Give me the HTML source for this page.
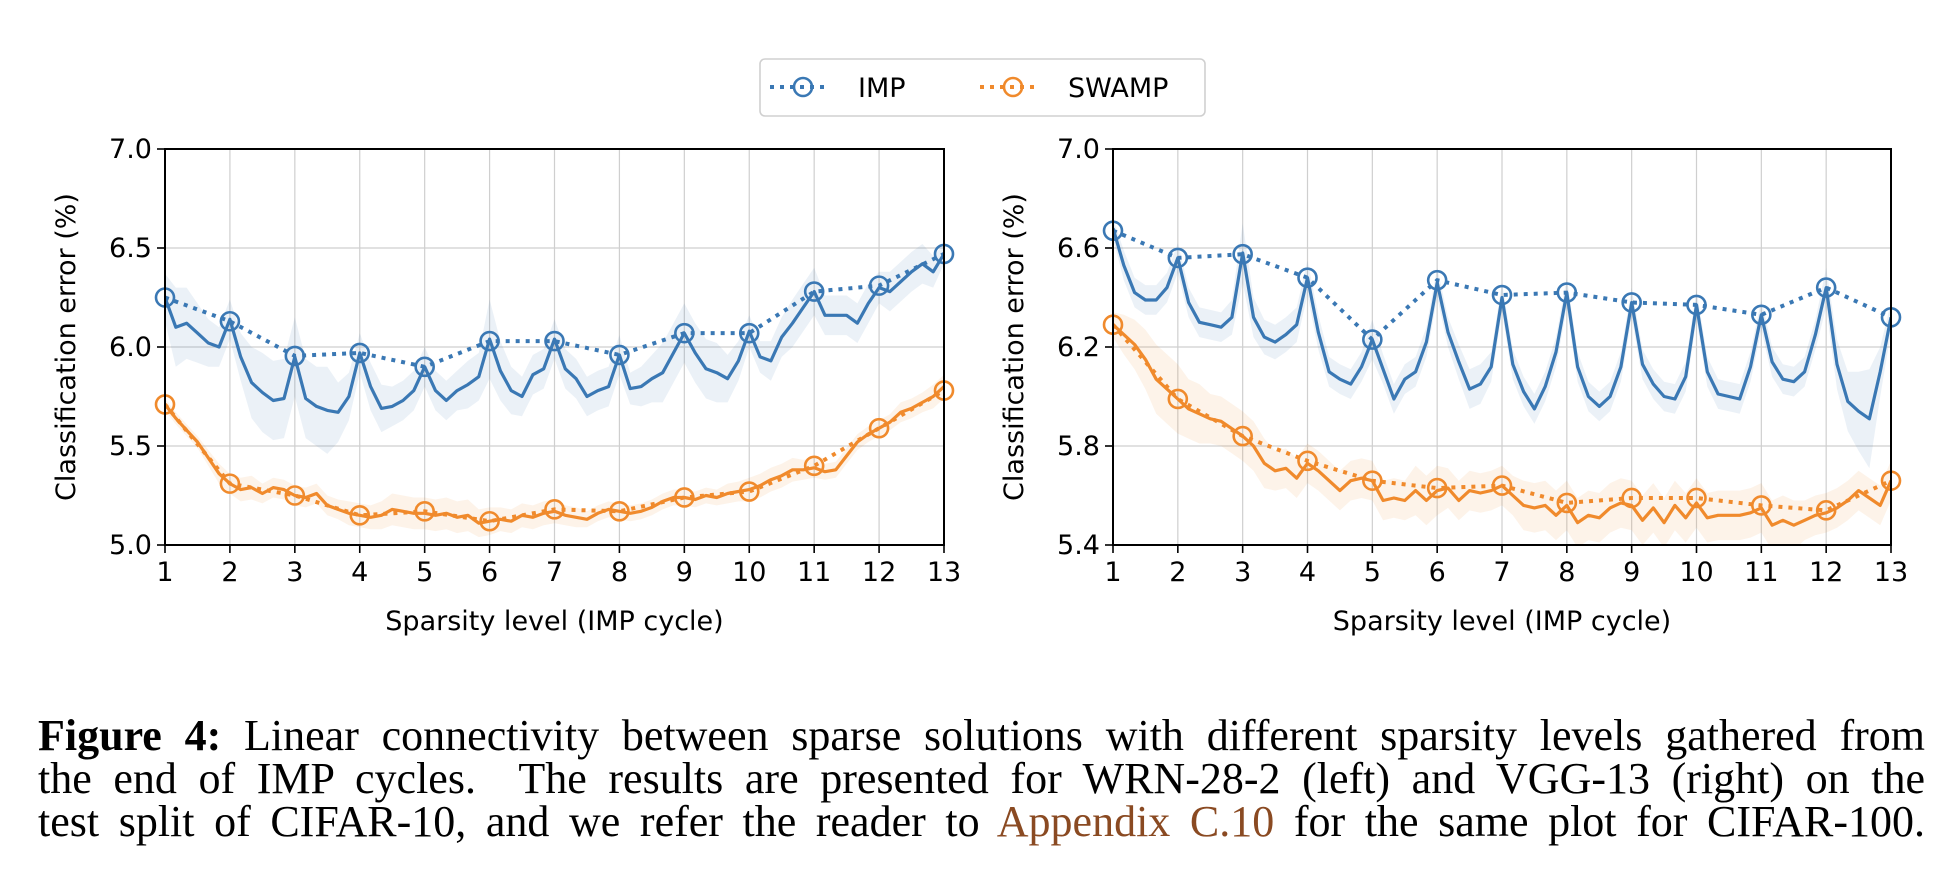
<!DOCTYPE html>
<html><head><meta charset="utf-8">
<style>
html,body{margin:0;padding:0;background:#fff;}
body{width:1954px;height:890px;position:relative;overflow:hidden;}
svg{position:absolute;left:0;top:0;}
.cap{position:absolute;left:38px;width:1887px;font-family:"Liberation Serif",serif;font-size:44px;color:#000;text-align:justify;text-align-last:justify;white-space:nowrap;line-height:44px;}
</style></head>
<body>
<svg id="fig" width="1954" height="700"></svg>
<div class="cap" style="top:714px"><b>Figure 4:</b> Linear connectivity between sparse solutions with different sparsity levels gathered from</div>
<div class="cap" style="top:757px">the end of IMP cycles.&nbsp; The results are presented for WRN-28-2 (left) and VGG-13 (right) on the</div>
<div class="cap" style="top:800px">test split of CIFAR-10, and we refer the reader to <span style="color:#8a4a22">Appendix C.10</span> for the same plot for CIFAR-100.</div>
<script>
const cycles=[1,2,3,4,5,6,7,8,9,10,11,12,13];
const leftImpEnd=[6.25,6.13,5.955,5.97,5.90,6.03,6.03,5.96,6.07,6.07,6.28,6.31,6.47];
const leftSwampEnd=[5.71,5.31,5.25,5.15,5.17,5.12,5.18,5.17,5.24,5.27,5.40,5.59,5.78];
const leftImpPath=[6.25,6.10,6.12,6.07,6.02,6.00,6.14,5.95,5.82,5.77,5.73,5.74,5.95,5.74,5.70,5.68,5.67,5.75,5.97,5.80,5.69,5.70,5.73,5.78,5.90,5.78,5.73,5.78,5.81,5.85,6.04,5.88,5.78,5.75,5.86,5.89,6.04,5.89,5.84,5.75,5.78,5.80,5.96,5.79,5.80,5.84,5.87,5.97,6.07,5.97,5.89,5.87,5.84,5.93,6.08,5.95,5.93,6.05,6.12,6.20,6.28,6.16,6.16,6.16,6.12,6.22,6.30,6.28,6.33,6.38,6.42,6.38,6.47];
const leftImpStd=[0.12,0.2,0.18,0.15,0.12,0.1,0.1,0.12,0.18,0.2,0.2,0.2,0.2,0.2,0.2,0.22,0.15,0.12,0.1,0.12,0.12,0.1,0.1,0.1,0.1,0.1,0.1,0.1,0.12,0.12,0.2,0.15,0.12,0.1,0.1,0.1,0.1,0.1,0.1,0.1,0.1,0.1,0.1,0.08,0.1,0.12,0.15,0.15,0.15,0.15,0.15,0.15,0.12,0.1,0.08,0.08,0.1,0.1,0.12,0.12,0.12,0.1,0.1,0.1,0.1,0.1,0.08,0.1,0.1,0.1,0.1,0.08,0.05];
const leftSwampPath=[5.71,5.64,5.58,5.52,5.44,5.36,5.31,5.28,5.29,5.26,5.29,5.28,5.25,5.24,5.26,5.20,5.18,5.16,5.15,5.14,5.15,5.18,5.17,5.16,5.16,5.15,5.16,5.14,5.15,5.11,5.12,5.13,5.12,5.15,5.14,5.16,5.17,5.15,5.14,5.13,5.16,5.18,5.17,5.16,5.17,5.19,5.22,5.24,5.24,5.23,5.25,5.24,5.26,5.27,5.28,5.30,5.33,5.35,5.38,5.38,5.39,5.37,5.38,5.45,5.52,5.56,5.59,5.62,5.67,5.69,5.72,5.75,5.80];
const leftSwampStd=[0.03,0.03,0.03,0.03,0.04,0.05,0.05,0.06,0.06,0.05,0.05,0.05,0.05,0.05,0.05,0.05,0.05,0.06,0.06,0.06,0.07,0.08,0.08,0.08,0.08,0.08,0.08,0.08,0.08,0.07,0.07,0.06,0.06,0.06,0.06,0.06,0.06,0.05,0.05,0.04,0.04,0.04,0.04,0.04,0.04,0.04,0.04,0.04,0.04,0.04,0.04,0.04,0.05,0.05,0.06,0.06,0.06,0.06,0.06,0.05,0.05,0.04,0.04,0.04,0.04,0.04,0.04,0.04,0.05,0.05,0.05,0.06,0.06];
const rightImpEnd=[6.67,6.56,6.575,6.48,6.23,6.47,6.41,6.42,6.38,6.37,6.33,6.44,6.32];
const rightSwampEnd=[6.29,5.99,5.84,5.74,5.66,5.63,5.64,5.57,5.59,5.59,5.56,5.54,5.66];
const rightImpPath=[6.68,6.53,6.42,6.39,6.39,6.44,6.56,6.38,6.30,6.29,6.28,6.32,6.58,6.32,6.24,6.22,6.25,6.29,6.48,6.26,6.10,6.07,6.05,6.12,6.23,6.11,5.99,6.07,6.10,6.22,6.46,6.26,6.14,6.03,6.05,6.12,6.40,6.13,6.02,5.95,6.04,6.18,6.42,6.12,6.00,5.96,6.00,6.12,6.38,6.13,6.05,6.00,5.99,6.08,6.37,6.10,6.01,6.00,5.99,6.12,6.33,6.14,6.07,6.06,6.10,6.25,6.44,6.13,5.98,5.94,5.91,6.10,6.32];
const rightImpStd=[0.04,0.06,0.06,0.06,0.06,0.06,0.06,0.06,0.06,0.06,0.06,0.07,0.12,0.08,0.07,0.07,0.07,0.07,0.07,0.07,0.06,0.06,0.06,0.06,0.08,0.06,0.06,0.06,0.06,0.06,0.06,0.06,0.07,0.08,0.08,0.06,0.06,0.06,0.06,0.06,0.06,0.06,0.06,0.06,0.06,0.06,0.06,0.06,0.06,0.06,0.06,0.06,0.06,0.06,0.06,0.06,0.06,0.06,0.06,0.06,0.06,0.06,0.06,0.06,0.06,0.06,0.08,0.1,0.12,0.16,0.2,0.1,0.06];
const rightSwampPath=[6.29,6.25,6.21,6.15,6.07,6.03,5.99,5.95,5.93,5.91,5.90,5.87,5.84,5.80,5.73,5.70,5.71,5.67,5.73,5.70,5.66,5.62,5.66,5.67,5.66,5.58,5.59,5.58,5.62,5.58,5.62,5.63,5.58,5.62,5.61,5.62,5.64,5.60,5.56,5.55,5.56,5.52,5.56,5.49,5.52,5.51,5.55,5.57,5.56,5.50,5.55,5.49,5.56,5.51,5.57,5.51,5.52,5.52,5.52,5.53,5.55,5.48,5.50,5.48,5.50,5.52,5.53,5.55,5.58,5.62,5.59,5.56,5.66];
const rightSwampStd=[0.05,0.08,0.1,0.12,0.14,0.14,0.14,0.12,0.12,0.1,0.1,0.1,0.1,0.1,0.1,0.08,0.08,0.08,0.08,0.08,0.08,0.08,0.08,0.08,0.08,0.08,0.08,0.08,0.1,0.1,0.1,0.08,0.08,0.08,0.08,0.08,0.08,0.08,0.1,0.1,0.1,0.1,0.1,0.1,0.1,0.1,0.1,0.1,0.1,0.1,0.1,0.1,0.1,0.1,0.1,0.1,0.1,0.1,0.1,0.1,0.1,0.1,0.1,0.1,0.08,0.08,0.08,0.08,0.08,0.08,0.08,0.08,0.08];
const leftYTicks=["5.0","5.5","6.0","6.5","7.0"];
const rightYTicks=["5.4","5.8","6.2","6.6","7.0"];

const NS="http://www.w3.org/2000/svg";
const svg=document.getElementById('fig');
const BLUE="#3a78b4", ORANGE="#f08a2c";
function mk(tag,attrs,parent){const e=document.createElementNS(NS,tag);for(const k in attrs)e.setAttribute(k,attrs[k]);(parent||svg).appendChild(e);return e;}

function panel(name,x0,x1,ymin,ymax,yticks,impEnd,impPath,impStd,swEnd,swPath,swStd,ylabX){
  const y0=149,y1=545;
  const g=mk('g',{});
  
  
  const sx=v=>x0+(v-1)*(x1-x0)/12;
  const sy=v=>y1-(v-ymin)*(y1-y0)/(ymax-ymin);
  const px=i=>1+i/6;
  cycles.forEach(c=>{const l=mk('line',{x1:sx(c),x2:sx(c),y1:y0,y2:y1,stroke:'#cfcfcf','stroke-width':1.2},g);
    });
  yticks.forEach(t=>{const v=parseFloat(t);const l=mk('line',{x1:x0,x2:x1,y1:sy(v),y2:sy(v),stroke:'#cfcfcf','stroke-width':1.2},g);
    });
  const clip=mk('clipPath',{id:name+'-clip'},g);mk('rect',{x:x0,y:y0,width:x1-x0,height:y1-y0},clip);
  const inner=mk('g',{'clip-path':'url(#'+name+'-clip)'},g);
  
  function band(path,std,color,nm){
    let d='';path.forEach((v,i)=>{d+=(i?'L':'M')+sx(px(i)).toFixed(1)+','+sy(v+std[i]).toFixed(1);});
    for(let i=path.length-1;i>=0;i--)d+='L'+sx(px(i)).toFixed(1)+','+sy(path[i]-std[i]).toFixed(1);
    const p=mk('path',{d:d+'Z',fill:color,'fill-opacity':0.1,stroke:'none'},inner);
    
  }
  band(impPath,impStd,BLUE,'imp-band');
  band(swPath,swStd,ORANGE,'swamp-band');
  function line(path,color,nm){
    const pts=path.map((v,i)=>sx(px(i)).toFixed(1)+','+sy(v).toFixed(1)).join(' ');
    const p=mk('polyline',{points:pts,fill:'none',stroke:color,'stroke-width':3.2,'stroke-linejoin':'round'},inner);
    
  }
  function dotted(vals,color,nm){
    const pts=vals.map((v,i)=>sx(cycles[i]).toFixed(1)+','+sy(v).toFixed(1)).join(' ');
    const p=mk('polyline',{points:pts,fill:'none',stroke:color,'stroke-width':4,'stroke-dasharray':'4,6'},inner);
    
    vals.forEach((v,i)=>{const c=mk('circle',{cx:sx(cycles[i]),cy:sy(v),r:9,fill:'none',stroke:color,'stroke-width':2.6},g);
      });
  }
  line(impPath,BLUE,'imp-interpolation-line');
  line(swPath,ORANGE,'swamp-interpolation-line');
  dotted(impEnd,BLUE,'imp-line');
  dotted(swEnd,ORANGE,'swamp-line');
  const r=mk('rect',{x:x0,y:y0,width:x1-x0,height:y1-y0,fill:'none',stroke:'#000','stroke-width':2},g);
  
  cycles.forEach(c=>{mk('line',{x1:sx(c),x2:sx(c),y1:y1,y2:y1+8,stroke:'#000','stroke-width':1.6},g);
    const t=mk('text',{x:sx(c),y:y1+36,'text-anchor':'middle','font-size':27,'font-family':'DejaVu Sans, Liberation Sans, sans-serif'},g);
    t.textContent=c;});
  yticks.forEach(s=>{const v=parseFloat(s);mk('line',{x1:x0-8,x2:x0,y1:sy(v),y2:sy(v),stroke:'#000','stroke-width':1.6},g);
    const t=mk('text',{x:x0-13,y:sy(v)+9,'text-anchor':'end','font-size':27,'font-family':'DejaVu Sans, Liberation Sans, sans-serif'},g);
    t.textContent=s;});
  const xl=mk('text',{x:(x0+x1)/2,y:630,'text-anchor':'middle','font-size':27,'font-family':'DejaVu Sans, Liberation Sans, sans-serif'},g);
  xl.textContent='Sparsity level (IMP cycle)';
  const yl=mk('text',{x:0,y:0,'text-anchor':'middle','font-size':27,'font-family':'DejaVu Sans, Liberation Sans, sans-serif',transform:`translate(${ylabX},${(y0+y1)/2}) rotate(-90)`},g);
  yl.textContent='Classification error (%)';
}
panel('left-chart',165,944,5.0,7.0,leftYTicks,leftImpEnd,leftImpPath,leftImpStd,leftSwampEnd,leftSwampPath,leftSwampStd,75);
panel('right-chart',1113,1891,5.4,7.0,rightYTicks,rightImpEnd,rightImpPath,rightImpStd,rightSwampEnd,rightSwampPath,rightSwampStd,1023);

const lg=mk('g',{});


mk('rect',{x:760,y:59,width:445,height:57,rx:5,fill:'#fff',stroke:'#d0d0d0','stroke-width':1.6},lg);
[[BLUE,'IMP',770,858],[ORANGE,'SWAMP',980,1068]].forEach(([c,lab,x,tx])=>{
  const l=mk('line',{x1:x,x2:x+55,y1:87,y2:87,stroke:c,'stroke-width':4,'stroke-dasharray':'4,6'},lg);
  
  const ci=mk('circle',{cx:x+33,cy:87,r:9,fill:'none',stroke:c,'stroke-width':2.6},lg);
  
  const t=mk('text',{x:tx,y:97,'font-size':27,'font-family':'DejaVu Sans, Liberation Sans, sans-serif'},lg);
  t.textContent=lab;
});
</script>
</body></html>
